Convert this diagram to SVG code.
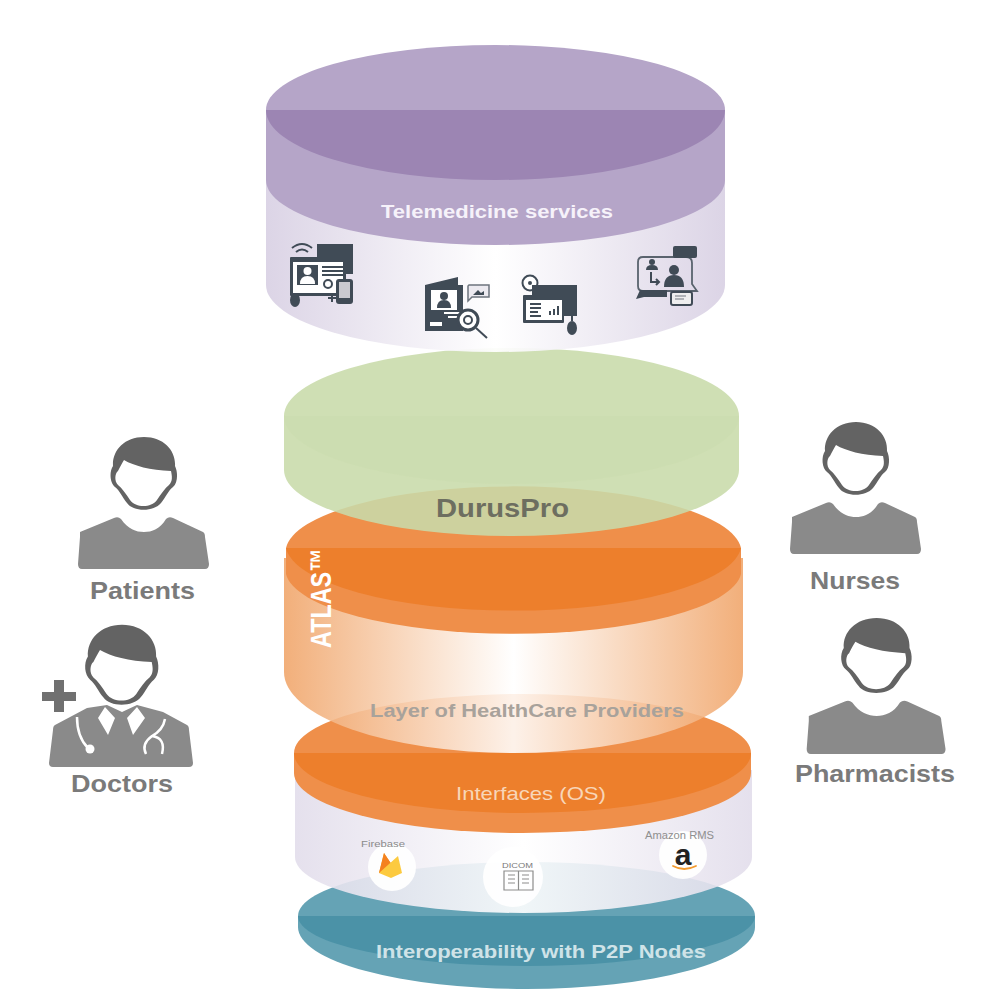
<svg xmlns="http://www.w3.org/2000/svg" xmlns:xlink="http://www.w3.org/1999/xlink" width="1000" height="1004" viewBox="0 0 1000 1004">
<style>
text{font-family:"Liberation Sans",Arial,sans-serif}
.b{font-weight:700}
.lab{font-weight:700;font-size:24px;fill:#7a7a7a}
.d{fill:#404b57}
.w{fill:#fff}
.ds{fill:none;stroke:#404b57;stroke-width:2}
.ws{fill:none;stroke:#fff;stroke-width:2}
.hair{fill:#636363}
.body{fill:#8a8a8a}
</style>
<defs>
<linearGradient id="gp" x1="0" x2="1" y1="0" y2="0"><stop offset="0" stop-color="#d9d1e4"/><stop offset=".5" stop-color="#fff"/><stop offset="1" stop-color="#d9d1e4"/></linearGradient>
<linearGradient id="gl" x1="0" x2="1" y1="0" y2="0"><stop offset="0" stop-color="#e2ddeb"/><stop offset=".5" stop-color="#fff"/><stop offset="1" stop-color="#e2ddeb"/></linearGradient>
<linearGradient id="go" x1="0" x2="1" y1="0" y2="0"><stop offset="0" stop-color="#f0a468"/><stop offset=".5" stop-color="#fff"/><stop offset="1" stop-color="#f0a468"/></linearGradient>
<filter id="soft" x="-10%" y="-10%" width="120%" height="120%"><feGaussianBlur stdDeviation=".45"/></filter>
<g id="head">
<path class="hair" d="M144 437C124 437 112 451 113 466C109 472 110 483 115 487C120 491 122 497 127 503C133 512 154 512 161 503C166 497 168 491 173 487C178 483 178 472 175 466C176 451 164 437 144 437Z"/>
<path class="w" d="M124 460C134 466 150 470 171 471C172 476 173 481 169 485C165 488 161 494 157 500C151 508 136 508 130 500C126 494 122 488 118 485C114 481 115 473 118 471C120 467 122 463 124 460Z"/>
</g>
<g id="person">
<use href="#head"/>
<path class="body" d="M80 532L114 518Q118 516 121 519C128 529 136 532 144 532C152 532 160 529 166 519Q169 516 173 518L203 532Q205 533 205 537L209 564Q209 569 205 569L82 569Q78 569 78 564L80 537Z"/>
</g>
</defs>

<g id="layer-interop">
<path fill="#65a3b5" d="M298 916A228.5 54 0 0 1 755 916V927A228.5 62 0 0 1 298 927Z"/>
<path fill="#4b92a7" d="M298 916H755A228.5 50 0 0 1 298 916Z"/>
</g>
<g id="layer-interfaces">
<path fill="url(#gl)" fill-opacity=".9" d="M295 770H752V857A228.5 56 0 0 1 295 857Z"/>
<path fill="#ef8f4a" d="M294 753A228.5 59 0 0 1 751 753V773A228.5 60 0 0 1 294 773Z"/>
<path fill="#ed7f2c" d="M294 753H751A228.5 60 0 0 1 294 753Z"/>
<g id="firebase"><circle cx="392" cy="867" r="24" fill="#fff" fill-opacity=".95" filter="url(#soft)"/>
<path fill="#f6a820" d="M379 873L384 853L392 865Z"/><path fill="#f4811f" d="M384 853L392 865L387 873L379 873Z"/><path fill="#fcca3f" d="M379 873L398 856L402 873L391 878Z"/></g>
<g id="dicom"><circle cx="513" cy="877" r="30" fill="#fff" fill-opacity=".95" filter="url(#soft)"/>
<path fill="none" stroke="#8c8c8c" stroke-width="1.2" d="M504 871H533V890H504ZM518.500 871V890M508 875H515M508 879H515M508 883H515M522 875H529M522 879H529M522 883H529"/></g>
<g id="amazon"><circle cx="683" cy="855" r="24" fill="#fff" fill-opacity=".95" filter="url(#soft)"/>
<path fill="none" stroke="#f29a2e" stroke-width="1.800" stroke-linecap="round" d="M673 866Q684 872 696 866"/></g>
</g>
<g id="layer-atlas">
<path fill="url(#go)" fill-opacity=".88" d="M284 558H743V672A229.5 81 0 0 1 284 672Z"/>
<path fill="#ef8f4a" d="M286 548A228 66 0 0 1 741 548V574A228 64 0 0 1 286 574Z"/>
<path fill="#ed7f2c" d="M286 548H741A228 67 0 0 1 286 548Z"/>
</g>
<g id="layer-duruspro">
<path fill="#c8dbaa" fill-opacity=".88" d="M284 416A227.500 68 0 0 1 739 416V470A227.500 66 0 0 1 284 470Z"/>
<path fill="#bcd39a" fill-opacity=".12" d="M284 416H739A227.500 68 0 0 1 284 416Z"/>
</g>
<g id="layer-telemedicine">
<path fill="url(#gp)" fill-opacity=".93" d="M266 110V285A229.500 67 0 0 0 725 285V110Z"/>
<path fill="#b5a5c8" d="M266 110A229.500 65 0 0 1 725 110V180A229.500 65 0 0 1 266 180Z"/>
<path fill="#9c85b3" d="M266 110H725A229.500 70 0 0 1 266 110Z"/>
</g>

<g id="icon-monitor" filter="url(#soft)">
<path class="ds" d="M292 248Q302 240 312 248M296 252Q302 247 308 252"/>
<rect class="d" x="317" y="244" width="36" height="30"/>
<rect class="d" x="290" y="257" width="56" height="39" rx="1"/>
<rect class="w" x="293" y="262" width="50" height="31"/>
<rect class="d" x="297" y="265" width="21" height="20"/>
<circle class="w" cx="307.500" cy="271" r="4"/><path class="w" d="M300 284Q300 276 307.500 276Q315 276 315 284Z"/>
<path class="ds" stroke-width="1.500" d="M322 267H343M322 271H343M322 275H343"/>
<circle class="ds" cx="328" cy="284" r="4"/>
<rect class="d" x="336" y="279" width="17" height="25" rx="3"/><rect x="339" y="282" width="11" height="16" fill="#c9c9cf"/>
<path class="d" d="M328 297h3v-3h2v3h3v2h-3v3h-2v-3h-3Z"/>
<ellipse class="d" cx="295" cy="300" rx="5" ry="7"/>
</g>
<g id="icon-brochure" filter="url(#soft)">
<path class="d" d="M425 285L458 277V285H463V331H425Z"/>
<rect class="w" x="431" y="290" width="26" height="20"/>
<circle class="d" cx="444" cy="296" r="4"/><path class="d" d="M437 308Q437 300 444 300Q451 300 451 308Z"/>
<rect class="w" x="430" y="322" width="12" height="4"/><path class="ws" d="M444 313H462M448 317H462"/>
<circle cx="468" cy="320" r="10" fill="#fff" stroke="#404b57" stroke-width="3"/><circle class="ds" cx="468" cy="320" r="4"/>
<path class="ds" d="M476 328L487 338"/>
<path fill="#eceaf0" stroke="#6c747d" stroke-width="1.500" d="M469 285H489V297H472L468 301V286Z"/><path class="d" d="M473 295L478 290L481 293L484 291V295Z"/>
</g>
<g id="icon-window" filter="url(#soft)">
<circle cx="530" cy="283" r="7.500" fill="#fff" stroke="#404b57" stroke-width="2"/><circle class="d" cx="530" cy="283" r="2"/>
<rect class="d" x="532" y="285" width="45" height="31"/>
<rect class="d" x="523" y="295" width="41" height="28" rx="1"/>
<rect class="w" x="526" y="300" width="36" height="20"/>
<path class="ds" stroke-width="1.500" d="M530 304H541M530 308H541M530 312H538M530 316H541"/>
<path class="d" d="M549 311h2v4h-2ZM553 309h2v6h-2ZM557 306h2v9h-2Z"/>
<path class="ds" stroke-width="1.200" d="M572 316V321"/><ellipse class="d" cx="572" cy="328" rx="5" ry="7"/>
</g>
<g id="icon-chat" filter="url(#soft)">
<path fill="none" stroke="#5a646e" stroke-width="1.800" d="M643 257H686Q692 257 692 263V284L697 291H643Q638 291 638 286V262Q638 257 643 257Z"/>
<rect class="d" x="673" y="246" width="24" height="12" rx="2"/>
<path class="d" d="M640 290H667V297H644L636 299Z"/>
<circle class="d" cx="652" cy="262" r="3"/><path class="d" d="M646 270Q646 265 652 265Q658 265 658 270Z"/><path class="ds" d="M651 272V282H659M656 279L659 282L656 285"/>
<circle class="d" cx="674" cy="270" r="5"/><path class="d" d="M664 287Q664 275 674 275Q684 275 684 287Z"/>
<rect x="671" y="292" width="21" height="13" rx="2" fill="#eee" stroke="#404b57" stroke-width="2"/><path stroke="#9a9ea4" stroke-width="1.300" d="M675 296H686M675 299H684"/>
</g>

<g id="patients"><use href="#person"/><text class="lab" x="90" y="599" textLength="105" lengthAdjust="spacingAndGlyphs">Patients</text></g>
<g id="nurses"><use href="#person" transform="translate(712 -15)"/><text class="lab" x="810" y="589" textLength="90" lengthAdjust="spacingAndGlyphs">Nurses</text></g>
<g id="pharmacists"><use href="#person" transform="translate(724 168) scale(1.06 1.03)"/><text class="lab" x="795" y="782" textLength="160" lengthAdjust="spacingAndGlyphs">Pharmacists</text></g>
<g id="doctors">
<use href="#head" transform="translate(-36.400 144) scale(1.1)"/>
<path class="body" d="M55 725L87 708L107 705L122 712L137 705L163 712L187 725Q189 726 189 730L193 763Q193 767 189 767H53Q49 767 49 763L53 730Q53 726 55 725Z"/>
<path class="w" d="M105 707L98 718L108 735L115 718ZM137 707L145 718L133 735L127 718Z"/>
<path fill="none" stroke="#fff" stroke-width="2.500" d="M77 717Q77 737 88 748M165 719Q163 730 152 736Q141 744 146 754M152 736Q166 738 162 754"/>
<circle class="w" cx="90" cy="749" r="4.500"/>
<path fill="#707070" d="M54 680H64V692H76V701H64V712H54V701H42V692H54Z"/>
<text class="lab" x="71" y="792" textLength="102" lengthAdjust="spacingAndGlyphs">Doctors</text>
</g>

<g id="labels">
<text class="b" x="381" y="218" font-size="19" fill="#f6f2fa" textLength="232" lengthAdjust="spacingAndGlyphs">Telemedicine services</text>
<text class="b" x="436" y="517" font-size="25" fill="#6d6e60" textLength="133" lengthAdjust="spacingAndGlyphs">DurusPro</text>
<text class="b" transform="translate(331 648) rotate(-90) scale(.78 1)" font-size="30" fill="#fff">ATLAS™</text>
<text class="b" x="370" y="717" font-size="19" fill="#a8a29b" textLength="314" lengthAdjust="spacingAndGlyphs">Layer of HealthCare Providers</text>
<text x="456" y="800" font-size="19" fill="#f8d6b8" textLength="150" lengthAdjust="spacingAndGlyphs">Interfaces (OS)</text>
<text class="b" x="376" y="958" font-size="19" fill="#cfe3e8" textLength="330" lengthAdjust="spacingAndGlyphs">Interoperability with P2P Nodes</text>
<text x="361" y="847" font-size="9" fill="#8a8a8a" textLength="44" lengthAdjust="spacingAndGlyphs">Firebase</text>
<text x="645" y="839" font-size="10" fill="#8f8f8f" textLength="69" lengthAdjust="spacingAndGlyphs">Amazon RMS</text>
<text x="502" y="868" font-size="7" fill="#7a7a7a" textLength="31" lengthAdjust="spacingAndGlyphs">DICOM</text>
<text class="b" x="683" y="865" font-size="30" fill="#222" text-anchor="middle">a</text>
</g>
</svg>
